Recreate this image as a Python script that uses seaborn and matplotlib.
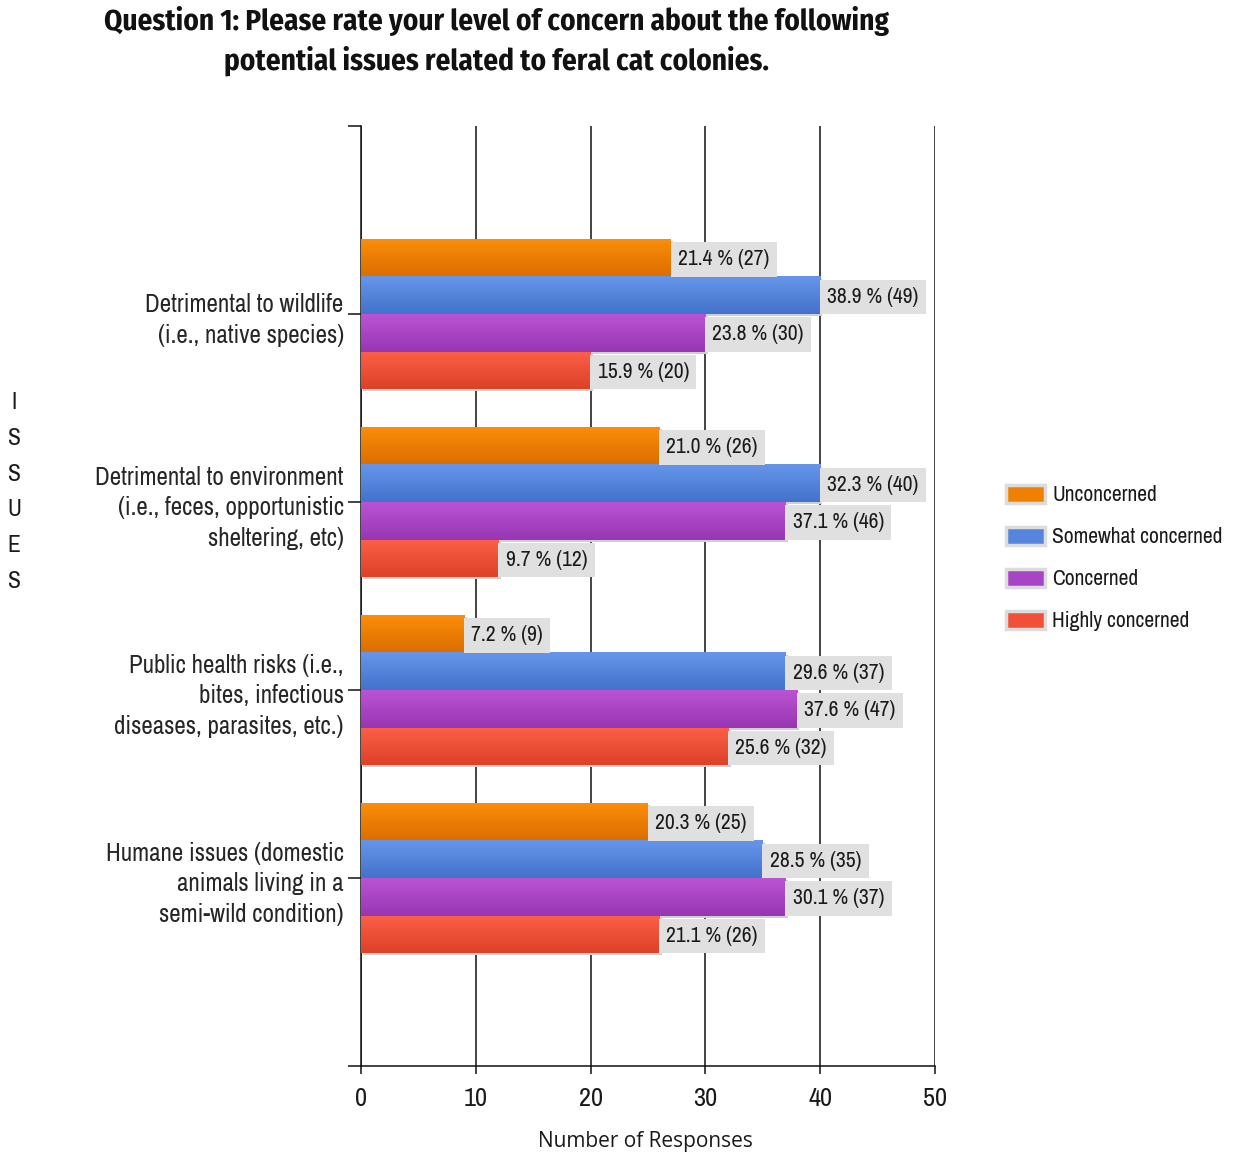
import numpy as np
import pandas as pd
import matplotlib
matplotlib.use("Agg")
import matplotlib.pyplot as plt
import matplotlib.patheffects as pe
from matplotlib.patches import Patch
from matplotlib.colors import to_rgb
import seaborn as sns

# ---------------- data ----------------
issues = [
    "Detrimental to wildlife\n(i.e., native species)",
    "Detrimental to environment\n(i.e., feces, opportunistic\nsheltering, etc)",
    "Public health risks (i.e.,\nbites, infectious\ndiseases, parasites, etc.)",
    "Humane issues (domestic\nanimals living in a\nsemi-wild condition)",
]
levels = ["Unconcerned", "Somewhat concerned", "Concerned", "Highly concerned"]

# bar lengths as drawn in the picture (per issue, per level)
bar_unconcerned = [27, 26, 9, 25]
bar_somewhat = [40, 40, 37, 35]
bar_concerned = [30, 37, 38, 37]
bar_highly = [20, 12, 32, 26]

# label values (percent and count) as printed
pct_unconcerned = [21.4, 21.0, 7.2, 20.3]
pct_somewhat = [38.9, 32.3, 29.6, 28.5]
pct_concerned = [23.8, 37.1, 37.6, 30.1]
pct_highly = [15.9, 9.7, 25.6, 21.1]
cnt_unconcerned = [27, 26, 9, 25]
cnt_somewhat = [49, 40, 37, 35]
cnt_concerned = [30, 46, 47, 37]
cnt_highly = [20, 12, 32, 26]

x_ticks = [0, 10, 20, 30, 40, 50]

colors = ["#f08000", "#5585dd", "#aa44c6", "#f05038"]
tops = ["#fc8e0a", "#6696ea", "#bb54d4", "#fc6048"]
bottoms = ["#dc6e00", "#4472cc", "#9736b2", "#dc4228"]

bars = [bar_unconcerned, bar_somewhat, bar_concerned, bar_highly]
pcts = [pct_unconcerned, pct_somewhat, pct_concerned, pct_highly]
cnts = [cnt_unconcerned, cnt_somewhat, cnt_concerned, cnt_highly]

rows = []
for lv, vals in zip(levels, bars):
    for iss, v in zip(issues, vals):
        rows.append({"issue": iss, "level": lv, "value": v})
df = pd.DataFrame(rows)

# ---------------- style ----------------
sns.set_style("white")
NARROW = ["Archivo Narrow", "DejaVu Sans"]
TITLEF = ["Fira Sans Condensed", "DejaVu Sans"]
plt.rcParams["font.family"] = NARROW
plt.rcParams["text.color"] = "#1a1a1a"

fig = plt.figure(figsize=(12.42, 11.56), dpi=100)
ax = fig.add_axes([361 / 1242, 1 - 1066 / 1156, (935 - 361) / 1242, (1066 - 126) / 1156])

sns.barplot(data=df, y="issue", x="value", hue="level", orient="h",
            palette=colors, hue_order=levels, order=issues, width=0.8,
            linewidth=0, legend=False, ax=ax, zorder=3, errorbar=None)

# gradient + shadow on bars
for ci, cont in enumerate(ax.containers):
    c_top = np.array(to_rgb(tops[ci]))
    c_bot = np.array(to_rgb(bottoms[ci]))
    grad = np.linspace(0, 1, 64)[:, None, None]
    img = c_top * (1 - grad) + c_bot * grad
    for p in cont.patches:
        p.set_path_effects([pe.SimplePatchShadow(offset=(1.6, -1.6), shadow_rgbFace="#cfcfcf", alpha=1.0),
                            pe.Normal()])
        x0, y0 = p.get_x(), p.get_y()
        w, h = p.get_width(), p.get_height()
        im = ax.imshow(img, extent=(x0, x0 + w, y0 + h, y0), aspect="auto",
                       origin="upper", zorder=3.5, interpolation="bilinear")
        im.set_clip_path(p)

# value labels
for ci, cont in enumerate(ax.containers):
    for j, p in enumerate(cont.patches):
        xe = p.get_x() + p.get_width()
        yc = p.get_y() + p.get_height() / 2
        ax.annotate(f"{pcts[ci][j]:.1f} % ({cnts[ci][j]})", xy=(xe, yc),
                    xytext=(5.0, -1.2), textcoords="offset points",
                    ha="left", va="center", fontsize=15.5, color="#1a1a1a", zorder=5,
                    bbox=dict(boxstyle="square,pad=0.34", facecolor="#e0e0e0", edgecolor="none"))

ax.set_xlim(0, 50)
ax.set_ylim(4, -1)
ax.set_xticks(x_ticks)
ax.set_xticklabels([str(t) for t in x_ticks], fontsize=19)
ax.set_yticks(range(len(issues)))
ax.set_yticklabels(issues, fontsize=18, ha="right", multialignment="right", linespacing=1.4)
ax.set_yticks([-1, 4], minor=True)
ax.tick_params(axis="y", which="both", direction="out", length=9.5, width=1.1, color="#111111", pad=3, left=True)
ax.tick_params(axis="x", direction="out", length=6, width=1.1, color="#111111", pad=9, bottom=True, labelcolor="#1a1a1a")
ax.grid(axis="x", color="#111111", linewidth=1.1, zorder=0)
ax.grid(axis="y", visible=False)
ax.set_axisbelow(True)
for s in ["top", "right"]:
    ax.spines[s].set_visible(False)
for s in ["left", "bottom"]:
    ax.spines[s].set_color("#111111")
    ax.spines[s].set_linewidth(1.1)
ax.set_xlabel("")
ax.set_ylabel("")

# axis titles
fig.text(645 / 1242, 1 - 1142 / 1156, "Number of Responses", ha="center", va="center",
         fontsize=15, family=["Open Sans", "DejaVu Sans"], color="#1a1a1a")
fig.text(14 / 1242, 1 - 492 / 1156, "\n".join("ISSUES"), ha="center", va="center",
         fontsize=17, linespacing=1.86, color="#1a1a1a")

# title
fig.text(497 / 1242, 1 - 41 / 1156,
         "Question 1: Please rate your level of concern about the following\npotential issues related to feral cat colonies.",
         ha="center", va="center", fontsize=21, fontweight="bold", linespacing=1.4,
         color="#111111", family=TITLEF)

# legend
handles = [Patch(facecolor=c, edgecolor="#dcdcdc", linewidth=2.5) for c in colors]
fig.legend(handles, levels, loc="upper left", bbox_to_anchor=(1006 / 1242, 1 - 485 / 1156),
           frameon=False, fontsize=15.5, handlelength=1.8, handleheight=0.9,
           handletextpad=0.35, labelspacing=1.0, borderpad=0, borderaxespad=0)

fig.savefig("out.png", dpi=100)
